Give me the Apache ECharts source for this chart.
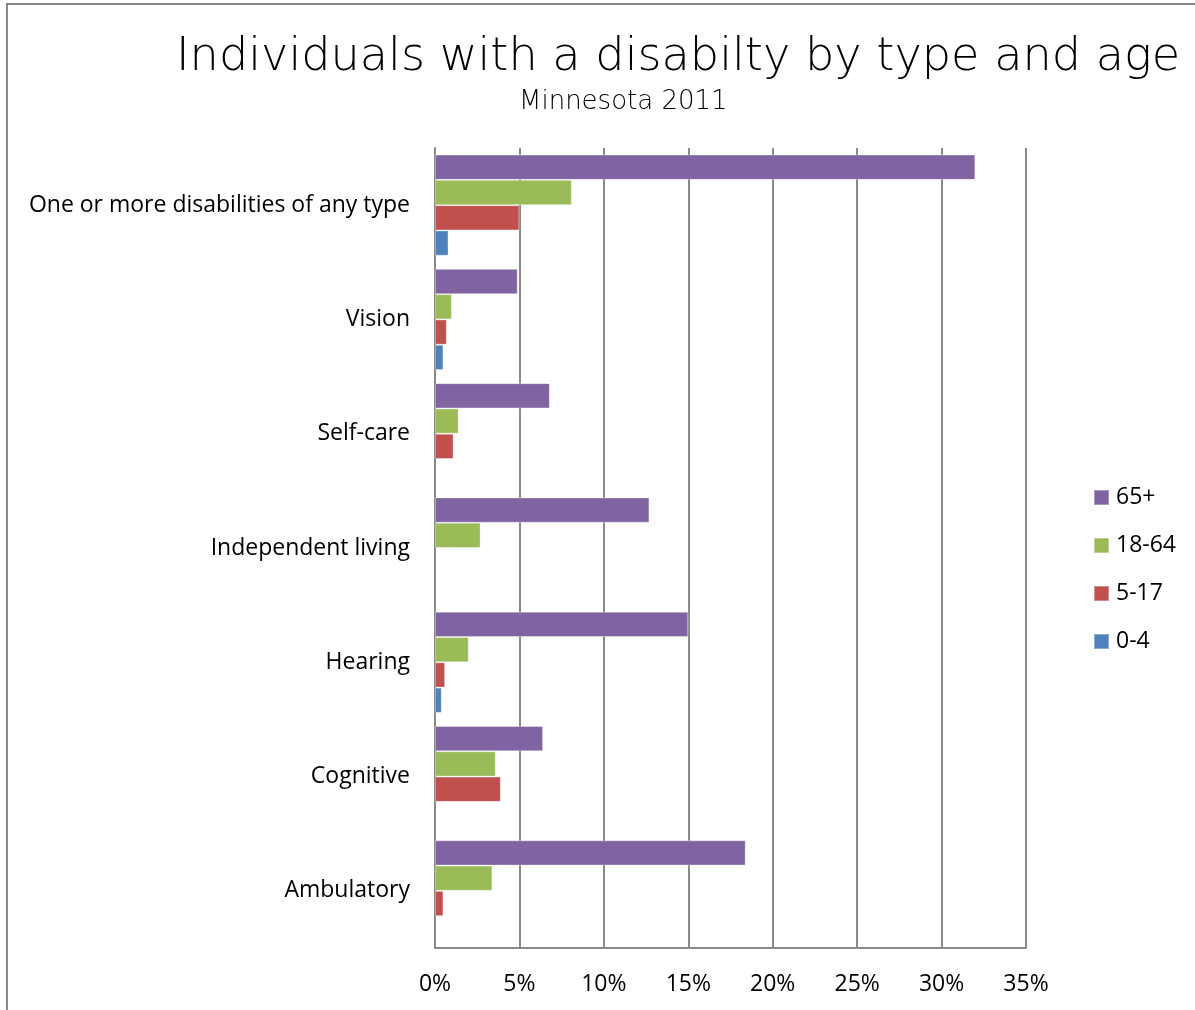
<!DOCTYPE html>
<html>
<head>
<meta charset="utf-8">
<title>Individuals with a disability by type and age</title>
<script src="https://cdn.jsdelivr.net/npm/echarts@6/dist/echarts.min.js"></script>
<style>
  html, body { margin: 0; padding: 0; background: #fff; }
  #chart { width: 1195px; height: 1010px; }
</style>
</head>
<body>
<div id="chart"></div>
<script>
// Disability categories, listed top to bottom
const categories = [
  'One or more disabilities of any type',
  'Vision',
  'Self-care',
  'Independent living',
  'Hearing',
  'Cognitive',
  'Ambulatory'
];

// Share of each age group with the disability (percent)
const age65plus = [32.0, 4.9, 6.8, 12.7, 15.0, 6.4, 18.4];
const age18to64 = [8.1, 1.0, 1.4, 2.7, 2.0, 3.6, 3.4];
const age5to17  = [5.0, 0.7, 1.1, null, 0.6, 3.9, 0.5];
const age0to4   = [0.8, 0.5, null, null, 0.4, null, null];

const seriesNames = ['65+', '18-64', '5-17', '0-4'];
const xTicks = { min: 0, max: 35, step: 5 };

const colors = ['#8064A2', '#9BBB59', '#C0504D', '#4F81BD'];
const gridColor = '#8a8a8a';
const labelFont = '"Open Sans", Lato, sans-serif';
const labelSize = 23;

const chart = echarts.init(document.getElementById('chart'));

const seriesData = [age65plus, age18to64, age5to17, age0to4];

chart.setOption({
  backgroundColor: '#ffffff',
  animation: false,
  color: colors,
  title: [
    {
      text: 'Individuals with a disabilty by type and age',
      left: 176,
      top: 35,
      padding: 0,
      textStyle: {
        fontFamily: '"DejaVu Sans", sans-serif',
        fontWeight: 200,
        fontSize: 46.2,
        color: '#000'
      }
    },
    {
      text: 'Minnesota 2011',
      left: 519,
      top: 89,
      padding: 0,
      textStyle: {
        fontFamily: '"DejaVu Sans", sans-serif',
        fontWeight: 200,
        fontSize: 26,
        color: '#000'
      }
    }
  ],
  legend: {
    orient: 'vertical',
    left: 1093,
    top: 486,
    padding: 0,
    itemWidth: 15,
    itemHeight: 15,
    itemGap: 25,
    icon: 'rect',
    data: seriesNames,
    textStyle: {
      fontFamily: labelFont,
      fontSize: labelSize,
      color: '#000',
      padding: [0, 0, 0, 2]
    }
  },
  grid: {
    left: 435,
    top: 148,
    width: 591,
    height: 800,
    containLabel: false
  },
  xAxis: {
    type: 'value',
    min: xTicks.min,
    max: xTicks.max,
    interval: xTicks.step,
    axisLine: { show: true, lineStyle: { color: gridColor, width: 2 } },
    axisTick: { show: false },
    splitLine: { show: true, lineStyle: { color: gridColor, width: 2 } },
    axisLabel: {
      formatter: '{value}%',
      fontFamily: labelFont,
      fontSize: labelSize,
      color: '#000',
      margin: 25
    }
  },
  yAxis: {
    type: 'category',
    inverse: true,
    data: categories,
    axisLine: { show: true, onZero: false, lineStyle: { color: gridColor, width: 2 } },
    axisTick: { show: false },
    splitLine: { show: false },
    axisLabel: {
      fontFamily: labelFont,
      fontSize: labelSize,
      color: '#000',
      margin: 25,
      padding: [3, 0, 0, 0]
    }
  },
  series: seriesNames.map((name, i) => ({
    name: name,
    type: 'bar',
    data: seriesData[i],
    barGap: '0%',
    barCategoryGap: '11.5%',
    itemStyle: {
      color: colors[i],
      borderColor: 'rgba(255,255,255,0.35)',
      borderWidth: 1
    }
  })),
  graphic: [
    {
      type: 'polyline',
      silent: true,
      shape: { points: [[7, 1010], [7, 4], [1195, 4]] },
      style: { stroke: '#888888', lineWidth: 2, fill: null }
    }
  ]
});
</script>
</body>
</html>
